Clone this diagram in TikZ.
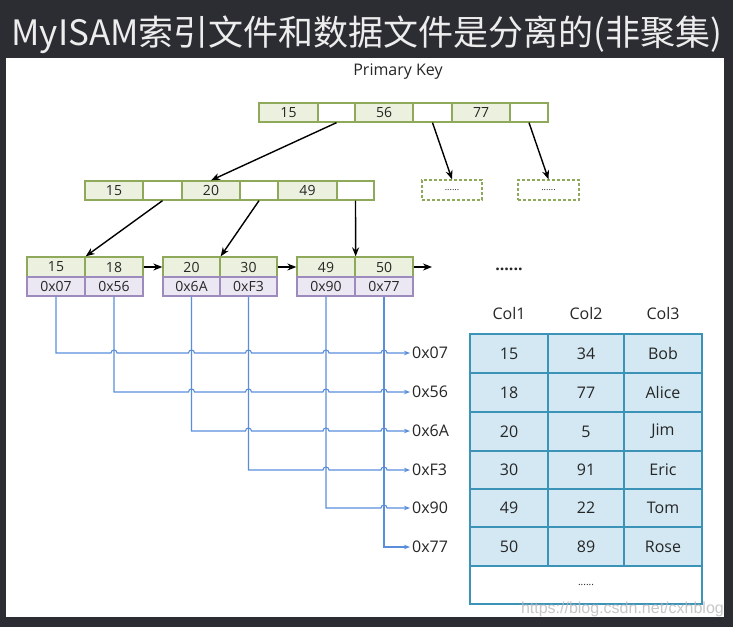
\documentclass[tikz,border=0pt]{standalone}
\usepackage{fontspec}
\setmainfont{Open Sans}
\newfontfamily\cjkfont{Noto Sans CJK SC}
\newfontfamily\wmfont{Liberation Sans}
\usetikzlibrary{arrows.meta,calc}
\definecolor{bgdark}{HTML}{2B2D32}
\definecolor{gfill}{HTML}{EBF1DE}
\definecolor{gline}{HTML}{8FA95A}
\definecolor{pfill}{HTML}{ECE8F3}
\definecolor{pline}{HTML}{9D8BBE}
\definecolor{tfill}{HTML}{D3E8F2}
\definecolor{tline}{HTML}{3B93B8}
\definecolor{bline}{HTML}{5A8EDB}
\definecolor{txt}{HTML}{262626}
\newcommand\mkcell[7]{\node[#6, minimum width={#3-#2}, minimum height={#5-#4}] (#1) at ({(#2+#3)/2},{(#4+#5)/2}) {#7};}
\begin{document}
\begin{tikzpicture}[x=1pt,y=-1pt,
  cellbase/.style={draw, line width=1.3pt, inner sep=0pt, text=txt, font=\fontsize{14}{16}\selectfont},
  gkey/.style={cellbase, draw=gline, fill=gfill},
  gptr/.style={cellbase, draw=gline, fill=white},
  paddr/.style={cellbase, draw=pline, fill=pfill},
  tcell/.style={draw=tline, fill=tfill, line width=1.3pt, inner sep=0pt, text=txt, font=\fontsize{16}{18}\selectfont},
  tlast/.style={tcell, fill=white},
  dashbox/.style={draw=gline, line width=1.3pt, dash pattern=on 3pt off 2pt, fill=white, inner sep=0pt, text=txt, font=\fontsize{9}{10}\selectfont},
  treearrow/.style={-{Stealth[length=9pt,width=7pt]}, line width=1.4pt, black},
  bluearrow/.style={-{Stealth[length=6pt,width=4.5pt]}, line width=1.1pt, draw=bline},
  addrlbl/.style={anchor=west, inner sep=2pt, text=txt, font=\fontsize{16}{18}\selectfont},
  hdr/.style={text=txt, font=\fontsize{16}{18}\selectfont}
]
\useasboundingbox (0,0) rectangle (733,627);
\fill[bgdark] (0,0) rectangle (733,627);
\fill[white] (6,58) rectangle (724,617);

\node[font=\cjkfont\fontsize{35}{40}\selectfont, text=white!93!black, inner sep=0pt] (title) at (367,35) {MyISAM索引文件和数据文件是分离的(非聚集)};

\node[text=txt, font=\fontsize{16}{18}\selectfont] (pk) at (398,72) {Primary Key};

% root
\mkcell{rk1}{259}{318}{103}{122}{gkey}{15}
\mkcell{rb1}{318}{355}{103}{122}{gptr}{}
\mkcell{rk2}{355}{413}{103}{122}{gkey}{56}
\mkcell{rb2}{413}{452}{103}{122}{gptr}{}
\mkcell{rk3}{452}{510}{103}{122}{gkey}{77}
\mkcell{rb3}{510}{548}{103}{122}{gptr}{}

% level 2
\mkcell{mk1}{85}{143}{181}{200}{gkey}{15}
\mkcell{mb1}{143}{182}{181}{200}{gptr}{}
\mkcell{mk2}{182}{240}{181}{200}{gkey}{20}
\mkcell{mb2}{240}{278}{181}{200}{gptr}{}
\mkcell{mk3}{278}{337}{181}{200}{gkey}{49}
\mkcell{mb3}{337}{374}{181}{200}{gptr}{}

\mkcell{d1}{422}{482}{180}{200}{dashbox}{......}
\mkcell{d2}{518}{579}{180}{200}{dashbox}{......}

% leaves
\mkcell{k1}{27}{85}{257}{277}{gkey}{15}
\mkcell{k2}{85}{143}{257}{277}{gkey}{18}
\mkcell{a1}{27}{85}{277}{296}{paddr}{0x07}
\mkcell{a2}{85}{143}{277}{296}{paddr}{0x56}
\mkcell{k3}{163}{220}{257}{277}{gkey}{20}
\mkcell{k4}{220}{277}{257}{277}{gkey}{30}
\mkcell{a3}{163}{220}{277}{296}{paddr}{0x6A}
\mkcell{a4}{220}{277}{277}{296}{paddr}{0xF3}
\mkcell{k5}{297}{355}{257}{277}{gkey}{49}
\mkcell{k6}{355}{413}{257}{277}{gkey}{50}
\mkcell{a5}{297}{355}{277}{296}{paddr}{0x90}
\mkcell{a6}{355}{413}{277}{296}{paddr}{0x77}
\coordinate (leafend) at (432,267);
\node[text=txt, font=\bfseries\fontsize{16}{18}\selectfont] (moredots) at (509,269) {......};

% tree arrows
\draw[treearrow] (rb1.south) -- (mk2.north);
\draw[treearrow] (rb2.south) -- (d1.north);
\draw[treearrow] (rb3.south) -- (d2.north);
\draw[treearrow] (mb1.south) -- (k1.north east);
\draw[treearrow] (mb2.south) -- (k3.north east);
\draw[treearrow] (mb3.south) -- (k5.north east);
\draw[treearrow] (k2.east) -- (k3.west);
\draw[treearrow] (k4.east) -- (k5.west);
\draw[treearrow] (k6.east) -- (leafend);

% address labels
\node[addrlbl] (p1) at (410,353) {0x07};
\node[addrlbl] (p2) at (410,392) {0x56};
\node[addrlbl] (p3) at (410,431) {0x6A};
\node[addrlbl] (p4) at (410,470) {0xF3};
\node[addrlbl] (p5) at (410,508) {0x90};
\node[addrlbl] (p6) at (410,547) {0x77};

% blue connectors with hops
\draw[bluearrow] (a1.south) -- (a1.south |- p1.west)
  \foreach \hx in {114,191.5,248.5,326,384} { -- (\hx-3,353) arc[start angle=180,end angle=0,radius=3pt] } -- (p1.west);
\draw[bluearrow] (a2.south) -- (a2.south |- p2.west)
  \foreach \hx in {191.5,248.5,326,384} { -- (\hx-3,392) arc[start angle=180,end angle=0,radius=3pt] } -- (p2.west);
\draw[bluearrow] (a3.south) -- (a3.south |- p3.west)
  \foreach \hx in {248.5,326,384} { -- (\hx-3,431) arc[start angle=180,end angle=0,radius=3pt] } -- (p3.west);
\draw[bluearrow] (a4.south) -- (a4.south |- p4.west)
  \foreach \hx in {326,384} { -- (\hx-3,470) arc[start angle=180,end angle=0,radius=3pt] } -- (p4.west);
\draw[bluearrow] (a5.south) -- (a5.south |- p5.west)
  \foreach \hx in {384} { -- (\hx-3,508) arc[start angle=180,end angle=0,radius=3pt] } -- (p5.west);
\draw[bluearrow] (a6.south) -- (a6.south |- p6.west) -- (p6.west);

% table
\node[hdr] (h1) at (509,313) {Col1};
\node[hdr] (h2) at (586,313) {Col2};
\node[hdr] (h3) at (663,313) {Col3};
\foreach \r/\ya/\yb/\ca/\cb/\cc in {1/334/373/15/34/Bob, 2/373/412/18/77/Alice, 3/412/451/20/5/Jim, 4/451/489/30/91/Eric, 5/489/527/49/22/Tom, 6/527/566/50/89/Rose}{
  \mkcell{t\r a}{470}{548}{\ya}{\yb}{tcell}{\ca}
  \mkcell{t\r b}{548}{624}{\ya}{\yb}{tcell}{\cb}
  \mkcell{t\r c}{624}{702}{\ya}{\yb}{tcell}{\cc}
}
\mkcell{tend}{470}{702}{566}{604}{tlast}{\fontsize{10}{12}\selectfont ......}

\node[anchor=east, text=gray!55, opacity=0.8, font=\wmfont\fontsize{16}{18}\selectfont, inner sep=0pt] (wm) at (724,609) {https://blog.csdn.net/cxhblog};
\end{tikzpicture}
\end{document}
